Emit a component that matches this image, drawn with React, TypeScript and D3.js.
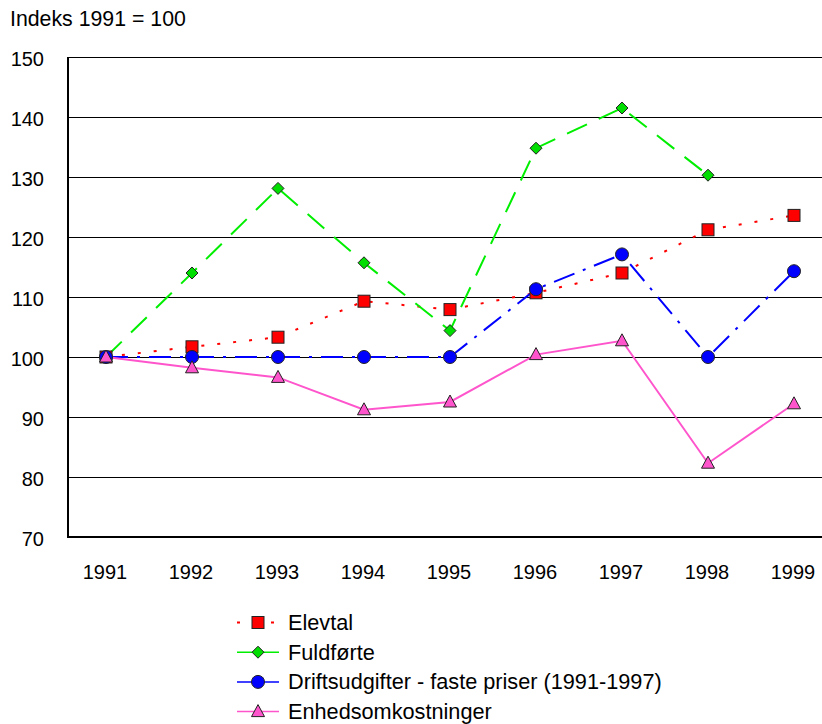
import React, { useRef, useEffect } from 'react';
import * as d3 from 'd3';

const years = ['1991', '1992', '1993', '1994', '1995', '1996', '1997', '1998', '1999'];
const elevtal = [100, 101.7, 103.3, 109.3, 107.9, 110.7, 114.0, 121.2, 123.6];
const fuldforte = [100, 114.0, 128.1, 115.7, 104.4, 134.8, 141.5, 130.3, null];
const driftsudgifter = [100, 100, 100, 100, 100, 111.3, 117.1, 100, 114.3];
const enhedsomk = [100, 98.2, 96.6, 91.2, 92.5, 100.4, 102.7, 82.3, 92.2];
const yTicks = [70, 80, 90, 100, 110, 120, 130, 140, 150];

const series = [
  { name: 'Elevtal', values: elevtal, color: '#ff0000', fill: '#ff0000', dash: '3,13', marker: 'square', legendDash: '3,14' },
  { name: 'Fuldførte', values: fuldforte, color: '#00ee00', fill: '#00dd00', dash: '22,13', marker: 'diamond', legendDash: null },
  { name: 'Driftsudgifter - faste priser (1991-1997)', values: driftsudgifter, color: '#0000ff', fill: '#0000ff', dash: '22,9,3,9', marker: 'circle', legendDash: null },
  { name: 'Enhedsomkostninger', values: enhedsomk, color: '#ff55cc', fill: '#ff55cc', dash: null, marker: 'triangle', legendDash: null },
];

const W = 822;
const H = 724;

function drawMarker(g, kind, x, y, fill) {
  const st = (sel) => sel.attr('fill', fill).attr('stroke', '#222').attr('stroke-width', 1);
  if (kind === 'square') {
    st(g.append('rect').attr('x', x - 6).attr('y', y - 6).attr('width', 12).attr('height', 12));
  } else if (kind === 'diamond') {
    st(g.append('path').attr('d', `M${x},${y - 6}L${x + 6},${y}L${x},${y + 6}L${x - 6},${y}Z`));
  } else if (kind === 'circle') {
    st(g.append('circle').attr('cx', x).attr('cy', y).attr('r', 6.5));
  } else {
    st(g.append('path').attr('d', `M${x},${y - 7}L${x + 6.5},${y + 5}L${x - 6.5},${y + 5}Z`));
  }
}

export default function App() {
  const svgRef = useRef(null);

  useEffect(() => {
    const svg = d3.select(svgRef.current);
    svg.selectAll('*').remove();

    const left = 68, top = 57, bottom = 537;
    const x = d3.scalePoint().domain(years).range([106, 794]);
    const y = d3.scaleLinear().domain([70, 150]).range([bottom, top]);
    const font = 'Liberation Sans, Arial, sans-serif';

    svg.append('text').attr('x', 10).attr('y', 26).attr('font-family', font)
      .attr('font-size', 21.3).text('Indeks 1991 = 100');

    // gridlines
    svg.append('g').selectAll('line').data(yTicks.filter(t => t > 70)).join('line')
      .attr('x1', left).attr('x2', W).attr('y1', d => Math.round(y(d)) + 0.5).attr('y2', d => Math.round(y(d)) + 0.5)
      .attr('stroke', '#000').attr('stroke-width', 1);

    // y labels
    svg.append('g').selectAll('text').data(yTicks).join('text')
      .attr('x', 44).attr('y', d => y(d) + 8.5).attr('text-anchor', 'end')
      .attr('font-family', font).attr('font-size', 20).text(d => d);

    // x labels
    svg.append('g').selectAll('text').data(years).join('text')
      .attr('x', d => x(d) - 1).attr('y', 579).attr('text-anchor', 'middle')
      .attr('font-family', font).attr('font-size', 20).text(d => d);

    // axes
    svg.append('line').attr('x1', left).attr('x2', left).attr('y1', top).attr('y2', bottom + 1)
      .attr('stroke', '#000').attr('stroke-width', 2);
    svg.append('line').attr('x1', left - 1).attr('x2', W).attr('y1', bottom).attr('y2', bottom)
      .attr('stroke', '#000').attr('stroke-width', 2);

    const line = d3.line()
      .defined(d => d[1] != null)
      .x(d => x(d[0]))
      .y(d => y(d[1]));

    series.forEach(s => {
      const pts = years.map((yr, i) => [yr, s.values[i]]);
      svg.append('path').datum(pts).attr('d', line).attr('fill', 'none')
        .attr('stroke', s.color).attr('stroke-width', 2)
        .attr('stroke-dasharray', s.dash);
    });

    series.forEach(s => {
      const g = svg.append('g');
      years.forEach((yr, i) => {
        if (s.values[i] == null) return;
        drawMarker(g, s.marker, x(yr), y(s.values[i]), s.fill);
      });
    });

    // legend
    const lg = svg.append('g');
    series.forEach((s, i) => {
      const cy = 622.5 + i * 29.7;
      lg.append('line').attr('x1', 237).attr('x2', 279).attr('y1', cy).attr('y2', cy)
        .attr('stroke', s.color).attr('stroke-width', s.legendDash ? 2 : 1.5)
        .attr('stroke-dasharray', s.legendDash);
      drawMarker(lg, s.marker, 258, cy, s.fill);
      lg.append('text').attr('x', 288).attr('y', cy + 7.3).attr('font-family', font)
        .attr('font-size', 21.7).text(s.name);
    });
  }, []);

  return (
    <svg ref={svgRef} width={W} height={H}
      style={{ position: 'absolute', left: 0, top: 0, background: '#fff', display: 'block' }} />
  );
}
